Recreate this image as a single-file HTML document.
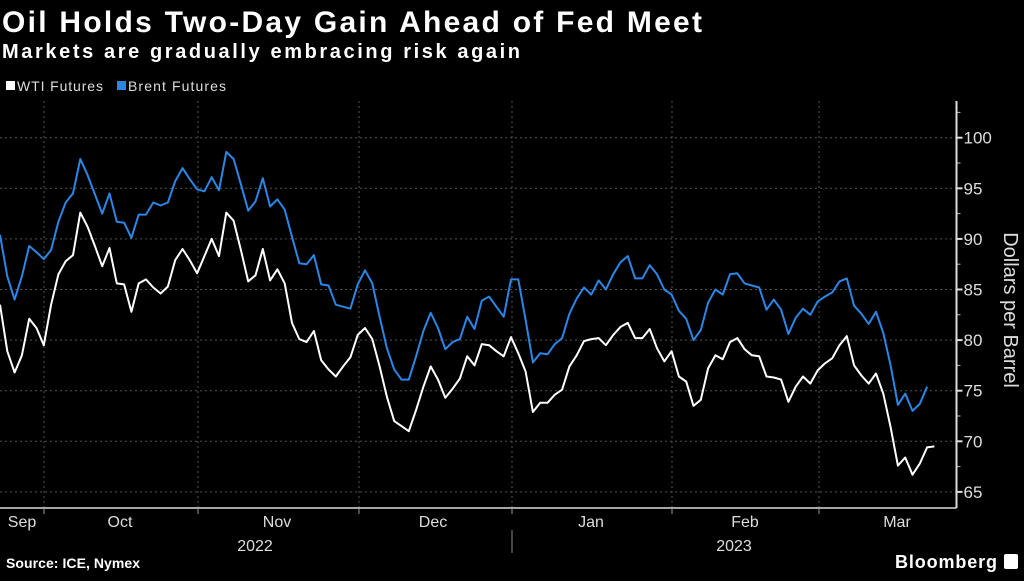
<!DOCTYPE html>
<html><head><meta charset="utf-8"><style>
body{margin:0;background:#000;width:1024px;height:576px;overflow:hidden;font-family:"Liberation Sans",sans-serif;}
svg text{font-family:"Liberation Sans",sans-serif;}
</style></head><body>
<svg id="chart" width="1024" height="576" xmlns="http://www.w3.org/2000/svg">
<rect width="1024" height="576" fill="#000"/>
<text x="2" y="32" fill="#fff" font-size="30" font-weight="bold" textLength="700" lengthAdjust="spacing">Oil Holds Two-Day Gain Ahead of Fed Meet</text>
<text x="2" y="58" fill="#fff" font-size="20" font-weight="bold" textLength="518" lengthAdjust="spacing">Markets are gradually embracing risk again</text>
<g>
<rect x="6" y="81" width="9" height="9" fill="#fff"/>
<text x="17" y="91" fill="#ddd" font-size="14" textLength="86" lengthAdjust="spacing">WTI Futures</text>
<rect x="117" y="81" width="9" height="9" fill="#2b86e6"/>
<text x="128" y="91" fill="#ddd" font-size="14" textLength="98" lengthAdjust="spacing">Brent Futures</text>
</g>
<g id="grid"></g>
<g id="axes"></g>
<g id="series"></g>
<text transform="translate(1004,310) rotate(90)" text-anchor="middle" fill="#ddd" font-size="20">Dollars per Barrel</text>
<text x="6" y="568" fill="#fff" font-size="14" font-weight="bold" textLength="134" lengthAdjust="spacing">Source: ICE, Nymex</text>
<text x="895" y="568" fill="#fff" font-size="18" font-weight="bold" textLength="102" lengthAdjust="spacing">Bloomberg</text>
<rect x="1004" y="554" width="14" height="15" rx="2" fill="#fff"/>
</svg>
<script>
const wti=[83.5,78.9,76.8,78.5,82.1,81.2,79.5,83.5,86.5,87.8,88.4,92.6,91.2,89.3,87.3,89.1,85.6,85.5,82.8,85.6,86.0,85.2,84.6,85.3,87.9,89.0,87.9,86.6,88.3,90.0,88.3,92.6,91.8,88.9,85.8,86.4,89.0,85.9,87.0,85.6,81.7,80.1,79.8,80.9,78.0,77.1,
76.4,77.4,78.3,80.5,81.2,80.1,77.4,74.4,72.0,71.5,71.0,73.1,75.4,77.4,76.1,74.3,75.2,76.2,78.4,77.5,79.6,79.5,78.9,78.4,80.3,78.7,76.9,72.9,73.8,73.8,74.6,75.1,77.4,78.5,79.9,80.1,80.2,79.5,80.5,81.3,81.7,80.2,80.2,81.1,79.2,
77.9,78.9,76.4,75.9,73.5,74.1,77.2,78.5,78.1,79.8,80.2,79.1,78.5,78.4,76.4,76.3,76.1,73.9,75.4,76.4,75.7,77.0,77.7,78.2,79.5,80.4,77.5,76.5,75.7,76.7,74.7,71.4,67.6,68.4,66.7,67.8,69.4,69.5];
const brent=[90.4,86.3,84.0,86.3,89.3,88.7,88.0,88.9,91.7,93.6,94.5,97.9,96.3,94.4,92.5,94.5,91.7,91.6,90.1,92.4,92.4,93.6,93.3,93.6,95.7,97.0,95.9,94.9,94.7,96.1,94.8,98.6,97.9,95.4,92.8,93.7,96.0,93.2,93.9,92.9,90.2,87.6,87.5,88.4,85.5,85.4,
83.5,83.3,83.1,85.5,86.9,85.6,82.3,79.2,77.1,76.1,76.1,78.4,80.9,82.7,81.2,79.1,79.8,80.1,82.3,81.1,83.9,84.3,83.3,82.3,86.0,86.0,82.0,77.8,78.7,78.6,79.6,80.2,82.6,84.1,85.2,84.5,85.9,85.0,86.5,87.7,88.3,86.1,86.1,87.4,86.5,
85.0,84.5,82.9,82.1,80.0,81.0,83.7,85.0,84.5,86.5,86.6,85.6,85.4,85.2,83.0,84.0,83.0,80.6,82.2,83.1,82.5,83.8,84.3,84.7,85.8,86.1,83.4,82.6,81.6,82.8,80.7,77.5,73.6,74.7,73.0,73.7,75.4];
const yTicks=[65,70,75,80,85,90,95,100];
const monthLabels=["Sep","Oct","Nov","Dec","Jan","Feb","Mar"];
const yearLabels=["2022","2023"];

const NS="http://www.w3.org/2000/svg";
const AX=956.5, TOP=101, BASE=508;
function y(v){return 137.7+(100-v)*10.12;}
function x(i){return i*7.3;}
function mk(t,a,p){const e=document.createElementNS(NS,t);for(const k in a)e.setAttribute(k,a[k]);p.appendChild(e);return e;}
const grid=document.getElementById('grid'),axes=document.getElementById('axes'),ser=document.getElementById('series');
yTicks.forEach(v=>{
  const g=mk('line',{x1:0,x2:AX,y1:y(v),y2:y(v),stroke:'#555','stroke-width':1,'stroke-dasharray':'2,3'},grid);
  
  
  const t=mk('line',{x1:AX,x2:AX+6,y1:y(v),y2:y(v),stroke:'#ddd','stroke-width':2},axes);
  
  
  const l=mk('text',{x:AX+7,y:y(v)+6,fill:'#ddd','font-size':17},axes);
  l.textContent=v;
  
  
});
for(let v=67.5;v<=102.5;v+=5){
  const t=mk('line',{x1:AX,x2:AX+4,y1:y(v),y2:y(v),stroke:'#bbb','stroke-width':1},axes);
  
  
}
const ya=mk('line',{x1:AX,x2:AX,y1:TOP,y2:BASE,stroke:'#ddd','stroke-width':2},axes);


const xa=mk('line',{x1:0,x2:AX,y1:BASE,y2:BASE,stroke:'#ddd','stroke-width':1.5},axes);


const bounds=[44,198,359,512,672,819];
const mids=[22,120,277,433,591,745,897];
bounds.forEach(b=>{
  const g=mk('line',{x1:b,x2:b,y1:TOP,y2:BASE,stroke:'#555','stroke-width':1,'stroke-dasharray':'2,3'},grid);
  
  
  const t=mk('line',{x1:b,x2:b,y1:BASE,y2:BASE+6,stroke:'#999','stroke-width':1},axes);
  
  
});
monthLabels.forEach((m,k)=>{
  const l=mk('text',{x:mids[k],y:527,fill:'#ddd','font-size':16,'text-anchor':'middle'},axes);
  l.textContent=m;
  
  
});
[255,734].forEach((px,k)=>{
  const l=mk('text',{x:px,y:551,fill:'#ddd','font-size':16,'text-anchor':'middle'},axes);
  l.textContent=yearLabels[k];
  
  
});
const sep=mk('line',{x1:512,x2:512,y1:530,y2:553,stroke:'#888','stroke-width':1},axes);


function path(arr){return arr.map((v,i)=>(i?'L':'M')+x(i).toFixed(1)+','+y(v).toFixed(1)).join('');}
const pb=mk('path',{d:path(brent),fill:'none',stroke:'#2b86e6','stroke-width':2,'stroke-linejoin':'round'},ser);


const pw=mk('path',{d:path(wti),fill:'none',stroke:'#fff','stroke-width':2,'stroke-linejoin':'round'},ser);


</script>
</body></html>
